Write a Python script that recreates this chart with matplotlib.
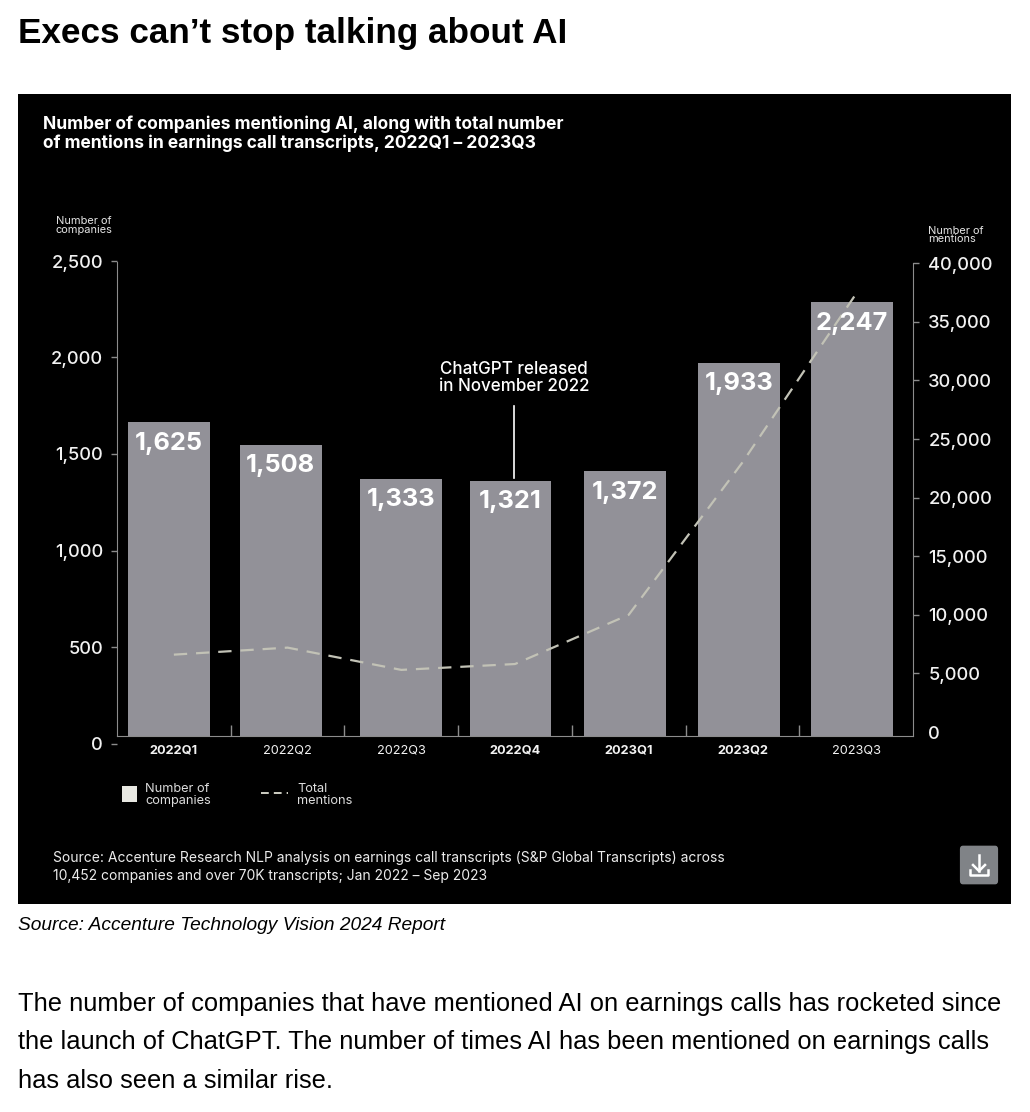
import matplotlib
matplotlib.use("Agg")
import matplotlib.pyplot as plt
from matplotlib.lines import Line2D
from matplotlib.patches import FancyBboxPatch, Rectangle

W, H = 1030, 1112

quarters = ["2022Q1", "2022Q2", "2022Q3", "2022Q4", "2023Q1", "2023Q2", "2023Q3"]
bold_quarters = ["2022Q1", "2022Q4", "2023Q1", "2023Q2"]
companies = [1625, 1508, 1333, 1321, 1372, 1933, 2247]
mentions = [6600, 7200, 5300, 5800, 10000, 23000, 37400]
left_ticks = [0, 500, 1000, 1500, 2000, 2500]
right_ticks = [0, 5000, 10000, 15000, 20000, 25000, 30000, 35000, 40000]

# the bars are not quite centred on their tick slots in the original
bar_nudge = [-0.04, -0.06, 0.0, -0.04, -0.03, -0.03, -0.04]
# left tick marks sit a bit lower than the bars' own baseline
tick_shift = 39

plt.rcParams['font.family'] = ['Inter', 'DejaVu Sans']

fig = plt.figure(figsize=(W / 100, H / 100), dpi=100, facecolor='white')


def fx(px):
    return px / W


def fy(py):
    return 1 - py / H


def put(px, py, s, size, color='white', weight='normal', **kw):
    kw.setdefault('va', 'center')
    return fig.text(fx(px), fy(py), s, fontsize=size * 0.72, color=color, weight=weight, **kw)


# black panel
fig.add_artist(Rectangle((fx(18), fy(904)), 993 / W, 810 / H, transform=fig.transFigure,
                         facecolor='black', edgecolor='none', zorder=-5))

# page text
put(18, 34, "Execs can’t stop talking about AI", 35.1, color='black', weight='bold', family='Liberation Sans')
put(18, 925, "Source: Accenture Technology Vision 2024 Report", 19.2, color='black', style='italic',
    family='Liberation Sans')
put(18, 1004, "The number of companies that have mentioned AI on earnings calls has rocketed since", 25.5,
    color='black', family='Liberation Sans')
put(18, 1042, "the launch of ChatGPT. The number of times AI has been mentioned on earnings calls", 25.5,
    color='black', family='Liberation Sans')
put(18, 1081, "has also seen a similar rise.", 25.5, color='black', family='Liberation Sans')

# chart headings
put(43, 124, "Number of companies mentioning AI, along with total number", 17.4, weight='bold')
put(43, 143, "of mentions in earnings call transcripts, 2022Q1 – 2023Q3", 17.4, weight='bold')
put(56, 221, "Number of", 11, color='#e4e4e4')
put(56, 230, "companies", 11, color='#e4e4e4')
put(928, 231, "Number of", 11, color='#e4e4e4')
put(928, 239, "mentions", 11, color='#e4e4e4')

# axes
ax = fig.add_axes([fx(117), fy(743.5), 796 / W, 482.5 / H])
ax.patch.set_alpha(0)
ax.set_xlim(-0.5, 6.5)
ax.set_ylim(-tick_shift, 2457)

bar_x = [i + n for i, n in enumerate(bar_nudge)]
ax.bar(bar_x, companies, width=0.72, color='#929198', zorder=2)

for side in ['top', 'right']:
    ax.spines[side].set_visible(False)
ax.spines['left'].set_color('#8c8c8c')
ax.spines['left'].set_bounds(0, 2457)
ax.spines['bottom'].set_color('#8c8c8c')
ax.spines['bottom'].set_position(('data', 0))

ax.set_yticks([v - tick_shift for v in left_ticks])
ax.set_yticklabels([f"{v:,}" for v in left_ticks], fontsize=13.2, color='#f2f2f2', weight='medium')
ax.tick_params(axis='y', length=4, width=1, color='#8c8c8c', pad=6)
ax.yaxis.get_major_ticks()[0].tick1line.set_visible(False)

ax.set_xticks(range(len(quarters)))
ax.set_xticklabels(quarters, fontsize=9.2, color='#f2f2f2')
for lab in ax.get_xticklabels():
    if lab.get_text() in bold_quarters:
        lab.set_fontweight('bold')
ax.tick_params(axis='x', length=0, pad=6)
ax.set_xticks([i + 0.5 for i in range(len(quarters) - 1)], minor=True)
ax.tick_params(axis='x', which='minor', direction='in', length=8, width=1, color='#8c8c8c')

ax2 = ax.twinx()
ax2.patch.set_alpha(0)
ax2.set_ylim(-981, 40188)
for side in ['top', 'left', 'bottom']:
    ax2.spines[side].set_visible(False)
ax2.spines['right'].set_color('#8c8c8c')
ax2.spines['right'].set_bounds(-341, 40000)
ax2.set_yticks(right_ticks)
ax2.set_yticklabels([f"{v:,}" for v in right_ticks], fontsize=13.2, color='#f2f2f2', weight='medium')
ax2.tick_params(axis='y', length=4, width=1, color='#8c8c8c', pad=7)
ax2.yaxis.get_major_ticks()[0].tick2line.set_visible(False)

ax2.plot(range(len(quarters)), mentions, color='#c2c2b6', lw=1.6, dashes=(6, 4), zorder=3)

for x, v in zip(bar_x, companies):
    ax2.annotate(f"{v:,}", xy=(x, v), xycoords=ax.transData, xytext=(0, -15), textcoords='offset points',
                 ha='center', va='center', fontsize=18.3, weight='bold', color='white', zorder=5)

# ChatGPT note
put(514, 369, "ChatGPT released", 17, ha='center', weight='medium')
put(514, 387, "in November 2022", 17, ha='center', weight='medium')
fig.add_artist(Line2D([fx(514), fx(514)], [fy(406), fy(478)], color='white', lw=1.2))

# legend
fig.add_artist(Rectangle((fx(122), fy(802)), 15 / W, 16 / H, transform=fig.transFigure,
                         facecolor='#e8e8e2', edgecolor='none'))
put(145, 789, "Number of", 12.8, color='#dcdcdc')
put(145, 801, "companies", 12.8, color='#dcdcdc')
fig.add_artist(Line2D([fx(261), fx(288)], [fy(793), fy(793)], color='#cfcfc4', lw=1.4, dashes=(4, 2.6)))
put(297, 789, "Total", 12.8, color='#dcdcdc')
put(297, 801, "mentions", 12.8, color='#dcdcdc')

# source inside panel
put(53, 858, "Source: Accenture Research NLP analysis on earnings call transcripts (S&P Global Transcripts) across",
    13.88, color='#ececec')
put(53, 876, "10,452 companies and over 70K transcripts; Jan 2022 – Sep 2023", 13.88, color='#ececec')

# download button
fig.add_artist(FancyBboxPatch((fx(963), fy(881)), 32 / W, 32 / H, transform=fig.transFigure,
                              boxstyle="round,pad=0.003", facecolor='#808387', edgecolor='none'))
for xs, ys in [([979, 979], [855, 871]), ([973, 979, 985], [865, 871, 865]),
               ([970, 970, 988, 988], [870, 875, 875, 870])]:
    fig.add_artist(Line2D([fx(p) for p in xs], [fy(p) for p in ys], color='white', lw=1.8))

fig.savefig("out.png", dpi=100)
